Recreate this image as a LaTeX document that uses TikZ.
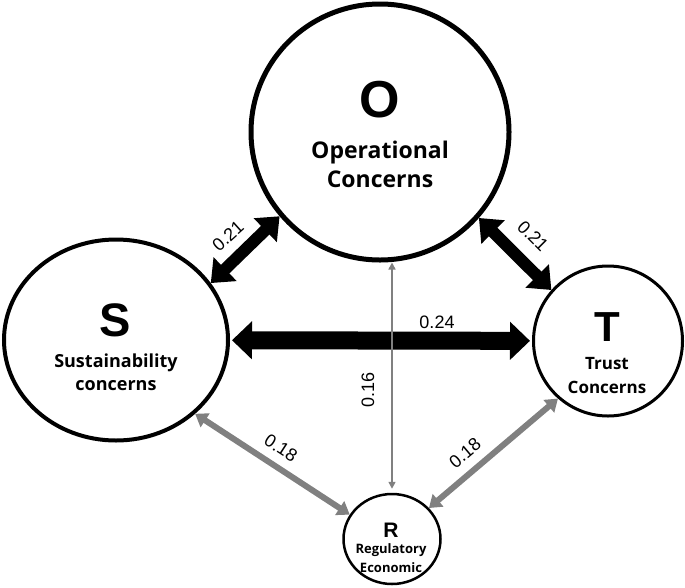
\documentclass[tikz,border=0pt]{standalone}
\usepackage{fontspec}
\setmainfont{Liberation Sans}
\newfontfamily\capfont{Open Sans}
\usetikzlibrary{arrows.meta,shapes.geometric,calc}

\begin{document}
\begin{tikzpicture}[x=1pt,y=-1pt,
    concern/.style={draw,ellipse,inner sep=0pt},
    letter/.style={font=\bfseries\fontsize{#1}{#1}\selectfont},
    caption/.style 2 args={align=center,font=\capfont\bfseries\fontsize{#1}{#2}\selectfont},
    weight/.style={font=\fontsize{18}{18}\selectfont,inner sep=0pt},
    strong/.style={line width=12pt,{Triangle[width=32pt,length=20pt]}-{Triangle[width=32pt,length=20pt]}},
    weak/.style={gray,line width=6pt,{Triangle[width=16pt,length=12pt]}-{Triangle[width=16pt,length=12pt]}}]
  \useasboundingbox (0,0) rectangle (685,587);
  % the four concern circles
  \node[concern,line width=5pt,minimum width=258pt,minimum height=256pt] (O) at (380,132) {};
  \node[concern,line width=4pt,minimum width=224pt,minimum height=201pt] (S) at (116,340) {};
  \node[concern,line width=3pt,minimum width=149pt,minimum height=150pt] (T) at (608,341) {};
  \node[concern,line width=2.5pt,minimum width=97pt,minimum height=90pt] (R) at (392,539) {};
  % texts
  \node[letter=52] (O-letter) at (380,100) {O};
  \node[caption={23}{29}] (O-text) at (380,164) {Operational\\Concerns};
  \node[letter=47] (S-letter) at (115,320) {S};
  \node[caption={18}{23}] (S-text) at (116,372) {Sustainability\\concerns};
  \node[letter=42] (T-letter) at (607,327) {T};
  \node[caption={17}{24}] (T-text) at (607,376) {Trust\\Concerns};
  \node[letter=21] (R-letter) at (391,530) {R};
  \node[caption={13}{19}] (R-text) at (391,558) {Regulatory\\Economic};
  % connections
  \draw[strong] (S.31) -- (O.220);
  \draw[strong] (O.-41) -- (T.138);
  \draw[line width=18pt,{Triangle[width=37pt,length=20pt]}-{Triangle[width=37pt,length=20pt]},shorten <=2pt,shorten >=2pt] (S) -- (T);
  \draw[gray,line width=1.5pt,{Triangle[width=7pt,length=7pt]}-{Triangle[width=7pt,length=7pt]},shorten <=4pt] (R) -- (R |- O.south);
  \draw[weak] (S.-43) -- (R.150);
  \draw[weak] (T.229) -- (R.40);
  % weights
  \node[weight,rotate=42] (w-OS) at (228,236) {0.21};
  \node[weight,rotate=-45] (w-OT) at (533,236) {0.21};
  \node[weight] (w-ST) at (437,322) {0.24};
  \node[weight,rotate=90] (w-OR) at (368,390) {0.16};
  \node[weight,rotate=-33] (w-SR) at (281,448) {0.18};
  \node[weight,rotate=40] (w-TR) at (465,453) {0.18};
\end{tikzpicture}
\end{document}
